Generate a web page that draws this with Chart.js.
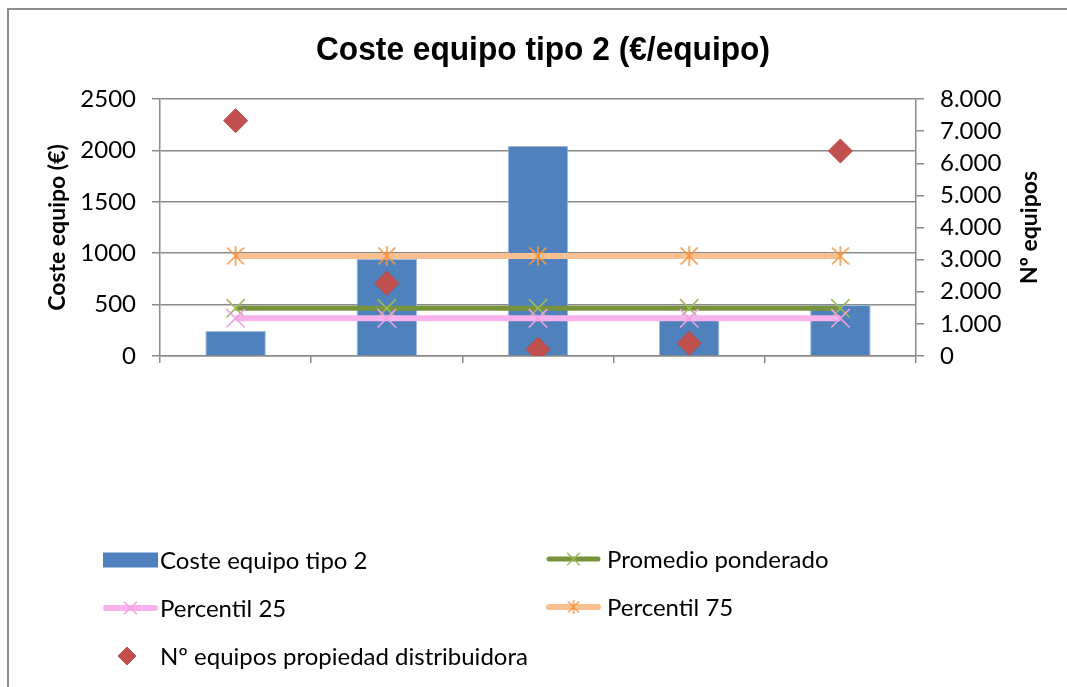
<!DOCTYPE html>
<html>
<head>
<meta charset="utf-8">
<script src="https://cdn.jsdelivr.net/npm/chart.js@4.4.1/dist/chart.umd.min.js"></script>
<style>
html,body{margin:0;padding:0;background:#ffffff;overflow:hidden;}
canvas{display:block;}
</style>
</head>
<body>
<canvas id="c" width="1067" height="687"></canvas>
<script>
// ---- data ----
const categories = ['1', '2', '3', '4', '5'];
const costeEquipo = [243, 944, 2043, 350, 496];
const promedioPonderado = [464, 464, 464, 464, 464];
const percentil25 = [367, 367, 367, 367, 367];
const percentil75 = [973, 973, 973, 973, 973];
const nEquiposDistribuidora = [7325, 2263, 208, 395, 6381];
const leftTickLabels = ['0', '500', '1000', '1500', '2000', '2500'];
const rightTickLabels = ['0', '1.000', '2.000', '3.000', '4.000', '5.000', '6.000', '7.000', '8.000'];
const seriesNames = ['Coste equipo tipo 2', 'Promedio ponderado', 'Percentil 25', 'Percentil 75', 'Nº equipos propiedad distribuidora'];
const chartTitle = 'Coste equipo tipo 2 (€/equipo)';
const leftAxisTitle = 'Coste equipo (€)';
const rightAxisTitle = 'Nº equipos';

// ---- styles ----
const gridColor = '#8a8a8a';
const tickFont = { family: 'Lato', size: 24 };

function makeStar(color, size, lw) {
  const c = document.createElement('canvas');
  c.width = size; c.height = size;
  const g = c.getContext('2d');
  g.strokeStyle = color; g.lineWidth = lw;
  const p = 1.5, m = size / 2;
  g.beginPath();
  g.moveTo(p, p); g.lineTo(size - p, size - p);
  g.moveTo(size - p, p); g.lineTo(p, size - p);
  g.moveTo(m, 0); g.lineTo(m, size);
  g.stroke();
  return c;
}
const starBig = makeStar('#F79646', 20, 1.6);
const starSmall = makeStar('#F79646', 14, 1.4);

const decoPlugin = {
  id: 'deco',
  afterDraw(chart) {
    const ctx = chart.ctx;
    const ca = chart.chartArea;
    ctx.save();
    // outer frame
    ctx.strokeStyle = '#8c8c8c';
    ctx.lineWidth = 2;
    ctx.beginPath();
    ctx.moveTo(8, 800); ctx.lineTo(8, 9); ctx.lineTo(1200, 9);
    ctx.stroke();

    // title
    ctx.fillStyle = '#000';
    ctx.font = 'bold 34px "Liberation Sans", Arial, sans-serif';
    ctx.textBaseline = 'alphabetic';
    ctx.textAlign = 'left';
    const tw = ctx.measureText(chartTitle).width;
    const targetW = 454;
    const sx = targetW / tw;
    ctx.save();
    ctx.translate(543 - targetW / 2, 60);
    ctx.scale(sx, 1);
    ctx.fillText(chartTitle, 0, 0);
    ctx.restore();

    // axis titles
    const midY = (ca.top + ca.bottom) / 2;
    ctx.font = 'bold 23px Lato, sans-serif';
    ctx.textAlign = 'center';
    ctx.textBaseline = 'middle';
    ctx.save();
    ctx.translate(58, midY);
    ctx.rotate(-Math.PI / 2);
    ctx.fillText(leftAxisTitle, 0, 0);
    ctx.restore();
    ctx.save();
    ctx.translate(1030, midY);
    ctx.rotate(-Math.PI / 2);
    ctx.fillText(rightAxisTitle, 0, 0);
    ctx.restore();

    // legend
    const ds = chart.data.datasets;
    const legendItems = [
      { i: 0, kind: 'bar', x: 103, y: 560 },
      { i: 1, kind: 'line', x: 546, y: 559, marker: 'crossRot' },
      { i: 2, kind: 'line', x: 103, y: 608, marker: 'crossRot' },
      { i: 3, kind: 'line', x: 546, y: 607, marker: starSmall },
      { i: 4, kind: 'point', x: 103, y: 656 }
    ];
    ctx.font = '24px Lato, sans-serif';
    ctx.textAlign = 'left';
    ctx.textBaseline = 'middle';
    legendItems.forEach(it => {
      const d = ds[it.i];
      const w = 55;
      if (it.kind === 'bar') {
        ctx.fillStyle = d.backgroundColor;
        ctx.fillRect(it.x, it.y - 7.5, w, 15);
      } else if (it.kind === 'line') {
        ctx.strokeStyle = d.borderColor;
        ctx.lineWidth = d.borderWidth;
        ctx.lineCap = 'round';
        ctx.beginPath();
        ctx.moveTo(it.x + 3, it.y); ctx.lineTo(it.x + w - 3, it.y);
        ctx.stroke();
        ctx.lineCap = 'butt';
        ctx.lineWidth = 1.4;
        ctx.strokeStyle = d.pointBorderColor;
        ctx.fillStyle = d.pointBorderColor;
        Chart.helpers.drawPoint(ctx, { pointStyle: it.marker, radius: 9, borderWidth: 1.4, rotation: 0 }, it.x + w / 2, it.y);
      } else {
        ctx.fillStyle = d.backgroundColor;
        ctx.strokeStyle = d.borderColor;
        ctx.lineWidth = 1;
        Chart.helpers.drawPoint(ctx, { pointStyle: 'rectRot', radius: 9, borderWidth: 1, rotation: 0 }, it.x + 24, it.y);
      }
      ctx.fillStyle = '#000';
      ctx.fillText(seriesNames[it.i], 160 + (it.x > 300 ? 447 : 0), it.y + 1);
    });
    ctx.restore();
  }
};

new Chart(document.getElementById('c'), {
  type: 'bar',
  data: {
    labels: categories,
    datasets: [
      {
        type: 'bar', label: seriesNames[0], data: costeEquipo, yAxisID: 'y',
        backgroundColor: '#4F81BD', borderColor: '#9DB9DD', borderWidth: 1,
        barPercentage: 0.4, categoryPercentage: 1, order: 10
      },
      {
        type: 'line', label: seriesNames[1], data: promedioPonderado, yAxisID: 'y',
        borderColor: '#77933C', borderWidth: 5, pointStyle: 'crossRot', pointRadius: 13,
        pointBorderColor: '#9BBB59', pointBorderWidth: 1.6, pointBackgroundColor: '#9BBB59',
        tension: 0, fill: false, order: 4
      },
      {
        type: 'line', label: seriesNames[2], data: percentil25, yAxisID: 'y',
        borderColor: '#F9B3EC', borderWidth: 6, pointStyle: 'crossRot', pointRadius: 13,
        pointBorderColor: '#F0A0E4', pointBorderWidth: 1.6, pointBackgroundColor: '#F0A0E4',
        tension: 0, fill: false, order: 3
      },
      {
        type: 'line', label: seriesNames[3], data: percentil75, yAxisID: 'y',
        borderColor: '#FAC090', borderWidth: 6, pointStyle: starBig, pointRadius: 10,
        pointBorderColor: '#F79646', pointBackgroundColor: '#F79646',
        tension: 0, fill: false, order: 2
      },
      {
        type: 'line', label: seriesNames[4], data: nEquiposDistribuidora, yAxisID: 'y1',
        showLine: false, pointStyle: 'rectRot', pointRadius: 12,
        backgroundColor: '#C0504D', borderColor: '#C0504D',
        pointBackgroundColor: '#C0504D', pointBorderColor: '#B84A47', pointBorderWidth: 1,
        order: 0
      }
    ]
  },
  options: {
    responsive: false,
    devicePixelRatio: 1,
    animation: false,
    events: [],
    layout: { padding: { top: 99, left: 0, right: 0, bottom: 0 } },
    plugins: { legend: { display: false }, title: { display: false }, tooltip: { enabled: false } },
    scales: {
      x: {
        offset: true,
        ticks: { display: false },
        grid: { display: true, offset: true, drawOnChartArea: false, drawTicks: true, tickLength: 7, color: gridColor, lineWidth: 1.5 },
        border: { display: true, color: gridColor, width: 1.5 },
        afterFit(s) { s.height = 687 - 356; }
      },
      y: {
        position: 'left', min: 0, max: 2500,
        ticks: { stepSize: 500, font: tickFont, color: '#000', padding: 16, callback: (v, i) => leftTickLabels[i] },
        grid: { color: gridColor, lineWidth: 1.5, tickLength: 8, drawTicks: true },
        border: { display: true, color: gridColor, width: 1.5 },
        afterFit(s) { s.width = 160; }
      },
      y1: {
        position: 'right', min: 0, max: 8000,
        ticks: { stepSize: 1000, font: tickFont, color: '#000', padding: 16, callback: (v, i) => rightTickLabels[i] },
        grid: { drawOnChartArea: false, color: gridColor, lineWidth: 1.5, tickLength: 8, drawTicks: true },
        border: { display: true, color: gridColor, width: 1.5 },
        afterFit(s) { s.width = 1067 - 916; }
      }
    }
  },
  plugins: [decoPlugin]
});
</script>
</body>
</html>
